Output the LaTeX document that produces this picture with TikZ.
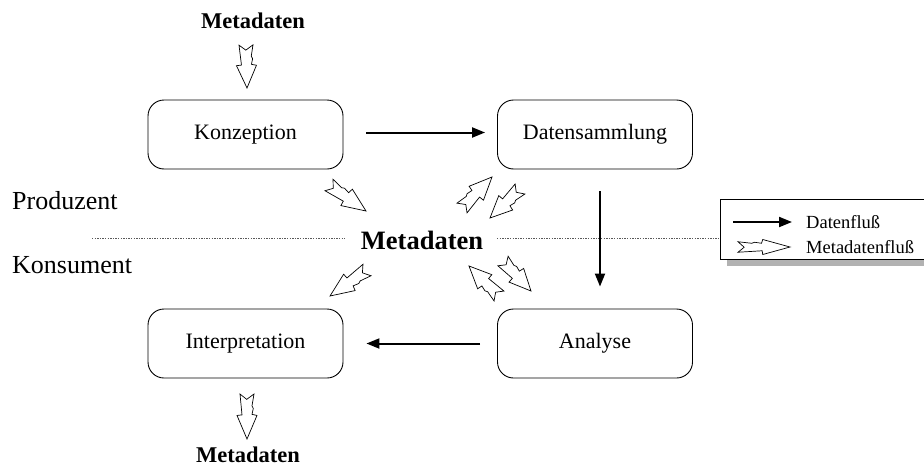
\documentclass[tikz,border=0pt]{standalone}
\usepackage{fontspec}
\setmainfont{Liberation Serif}
\usetikzlibrary{calc,arrows.meta}

\tikzset{
  stage/.style={draw, rounded corners=16pt, minimum width=195pt, minimum height=69pt,
    line width=0.9pt, inner sep=0pt, font=\fontsize{22}{26}\selectfont},
  flow/.style={-{Triangle[length=13pt,width=10pt]}, line width=2pt},
  metaflow/.style={draw, fill=white, line width=0.7pt, line join=miter, miter limit=4},
  divider/.style={gray!70!black, line width=1pt, dash pattern=on 1.3pt off 1.3pt},
  side/.style={anchor=base west, inner sep=0pt, font=\fontsize{26}{30}\selectfont},
  metabig/.style={inner sep=0pt, font=\fontsize{26.5}{30}\bfseries\selectfont},
  metasmall/.style={inner sep=0pt, font=\fontsize{22.5}{26}\bfseries\selectfont},
  legendtext/.style={anchor=west, inner sep=0pt, font=\fontsize{18.5}{22}\selectfont}
}

% hollow, notched arrow from #2 (tail) to #3 (tip); #1 scales its width
\newcommand\metaarrow[3][1]{%
  \draw[metaflow] let \p1=($(#3)-(#2)$), \n1={atan2(\y1,\x1)}, \n2={veclen(\x1,\y1)/42}
    in [shift={(#2)}, rotate=\n1]
    ({0*\n2},{7*#1}) -- ({5*\n2},{0.3*#1}) -- ({0*\n2},{-7*#1})
    -- ({11*\n2},{-5*#1}) -- ({13.5*\n2},{-6.3*#1}) -- ({19*\n2},{-5*#1})
    -- ({20*\n2},{-10*#1}) -- ({42*\n2},0) -- ({20*\n2},{10*#1})
    -- ({19.5*\n2},{5*#1}) -- cycle;}

\begin{document}
\begin{tikzpicture}[x=1pt,y=-1pt]
  \useasboundingbox (0,0) rectangle (924,466);
  \clip (0,0) rectangle (924,466);

  % producer / consumer divide
  \draw[divider] (92,238) -- (345,238);
  \draw[divider] (497,238) -- (720,238);
  \node[side] (prod) at (12,209) {Produzent};
  \node[side] (kons) at (12,273) {Konsument};

  % process stages
  \node[stage] (konz) at (245.5,134.5) {Konzeption};
  \node[stage] (daten) at (595,134.5) {Datensammlung};
  \node[stage] (interp) at (245.5,343.5) {Interpretation};
  \node[stage] (analyse) at (595,343.5) {Analyse};

  \node[metabig] (meta) at (422,240) {Metadaten};
  \node[metasmall] (metain) at (253,21) {Metadaten};
  \node[metasmall] (metaout) at (248,455) {Metadaten};

  % data flow
  \coordinate (d1a) at ($(konz.east)+(23,-2)$);
  \coordinate (d1b) at ($(daten.west)+(-12,-2)$);
  \draw[flow] (d1a) -- (d1b);
  \coordinate (d2a) at ($(daten.south)+(5,22)$);
  \coordinate (d2b) at ($(analyse.north)+(5,-22)$);
  \draw[flow] (d2a) -- (d2b);
  \coordinate (d3a) at ($(analyse.west)+(-17,0)$);
  \coordinate (d3b) at ($(interp.east)+(23,0)$);
  \draw[flow] (d3a) -- (d3b);

  % metadata flow
  \coordinate (m1a) at (246,45);   \coordinate (m1b) at (247,88);
  \coordinate (m2a) at (329,185);  \coordinate (m2b) at (366,211);
  \coordinate (m3a) at (462,208);  \coordinate (m3b) at (492,177);
  \coordinate (m4a) at (520,189);  \coordinate (m4b) at (490,218);
  \coordinate (m5a) at (367,270);  \coordinate (m5b) at (330,296);
  \coordinate (m6a) at (499,296);  \coordinate (m6b) at (469,266);
  \coordinate (m7a) at (503,261);  \coordinate (m7b) at (531,291);
  \coordinate (m8a) at (247,394);  \coordinate (m8b) at (247,439);
  \metaarrow{m1a}{m1b}
  \metaarrow{m2a}{m2b}
  \metaarrow{m3a}{m3b}
  \metaarrow{m4a}{m4b}
  \metaarrow{m5a}{m5b}
  \metaarrow{m6a}{m6b}
  \metaarrow{m7a}{m7b}
  \metaarrow{m8a}{m8b}

  % legend
  \fill[gray!60] (727,206) rectangle (940,266);
  \draw[fill=white, line width=0.8pt] (720,199) rectangle (935,259);
  \coordinate (l1a) at (733,222); \coordinate (l1b) at (792,222);
  \draw[flow] (l1a) -- (l1b);
  \node[legendtext] (ldata) at (806,222) {Datenfluß};
  \coordinate (l2a) at (738,247); \coordinate (l2b) at (790,247);
  \metaarrow[0.75]{l2a}{l2b}
  \node[legendtext] (lmeta) at (806,247) {Metadatenfluß};
\end{tikzpicture}
\end{document}
